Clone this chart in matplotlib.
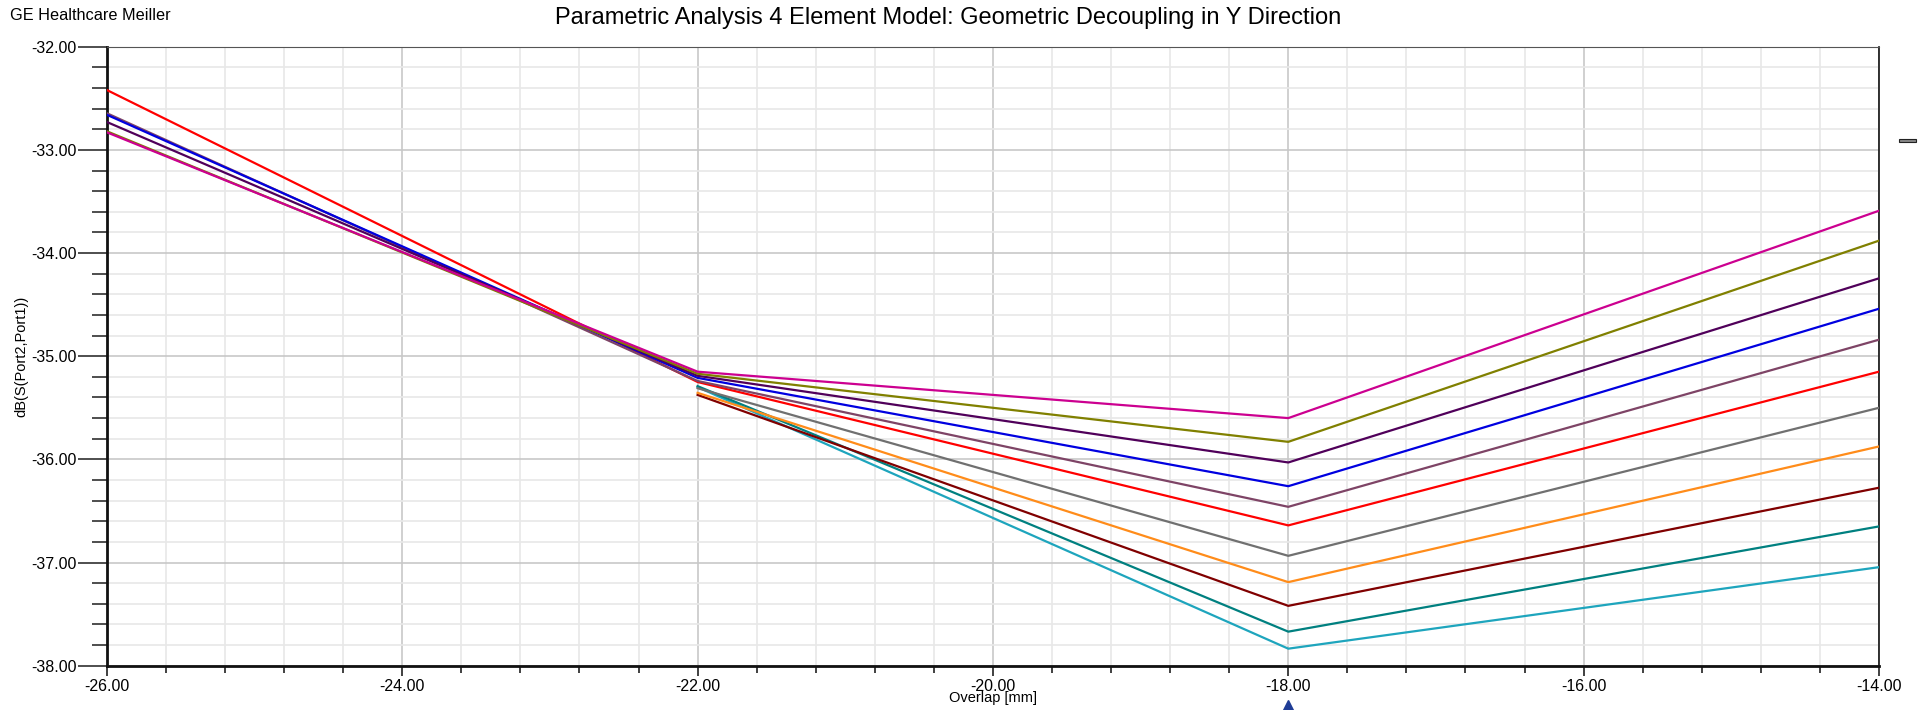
import matplotlib
matplotlib.use("Agg")
import matplotlib.pyplot as plt
import matplotlib.transforms as mtransforms
from matplotlib.patches import Rectangle
from matplotlib.ticker import MultipleLocator, FormatStrFormatter

plt.rcParams['font.family'] = ['Liberation Sans', 'DejaVu Sans']

# Overlap positions [mm]
x_long = [-26, -22, -18, -14]
x_short = [-22, -18, -14]

# dB(S(Port2,Port1)) per parametric curve
magenta = [-32.83, -35.15, -35.60, -33.59]
olive = [-32.82, -35.17, -35.83, -33.88]
dark_purple = [-32.73, -35.19, -36.03, -34.245]
blue = [-32.66, -35.21, -36.26, -34.54]
mauve = [-32.645, -35.24, -36.46, -34.84]
red = [-32.42, -35.25, -36.64, -35.15]
gray = [-35.31, -36.935, -35.50]
orange = [-35.355, -37.19, -35.875]
dark_red = [-35.375, -37.42, -36.275]
teal = [-35.29, -37.67, -36.65]
cyan = [-35.30, -37.835, -37.045]

long_series = [
    (red, "#ff0000"),
    (mauve, "#7e4466"),
    (blue, "#0000e0"),
    (dark_purple, "#50005a"),
    (olive, "#808000"),
    (magenta, "#cc0090"),
]
short_series = [
    (cyan, "#1ea5bd"),
    (teal, "#008080"),
    (dark_red, "#800000"),
    (orange, "#ff8c1a"),
    (gray, "#707070"),
]

marker_x = -18

fig = plt.figure(figsize=(19.23, 7.10), dpi=100)
ax = fig.add_axes([0.0556, 0.0624, 0.9215, 0.8718])

for vals, col in short_series:
    ax.plot(x_short, vals, color=col, lw=1.6, zorder=3)
for vals, col in long_series:
    ax.plot(x_long, vals, color=col, lw=1.6, zorder=3)

ax.set_xlim(-26, -14)
ax.set_ylim(-38, -32)
ax.xaxis.set_major_locator(MultipleLocator(2))
ax.xaxis.set_minor_locator(MultipleLocator(0.4))
ax.yaxis.set_major_locator(MultipleLocator(1))
ax.yaxis.set_minor_locator(MultipleLocator(0.2))
ax.xaxis.set_major_formatter(FormatStrFormatter('%.2f'))
ax.yaxis.set_major_formatter(FormatStrFormatter('%.2f'))

ax.grid(which='major', color='#c8c8c8', lw=1.2)
ax.grid(which='minor', color='#e8e8e8', lw=1.2)
ax.set_axisbelow(True)

ax.tick_params(axis='y', which='major', direction='out', length=21, width=1.2,
               pad=1, labelsize=11.5, color='#303030')
ax.tick_params(axis='y', which='minor', direction='out', length=11, width=1.2,
               color='#303030')
ax.tick_params(axis='x', which='major', direction='out', length=7.5, width=1.2,
               pad=2, labelsize=11.5, color='#202020')
ax.tick_params(axis='x', which='minor', direction='out', length=5, width=1.2,
               color='#202020')

for side in ['left', 'bottom']:
    ax.spines[side].set_linewidth(2)
    ax.spines[side].set_color('#111111')
ax.spines['right'].set_linewidth(1.2)
ax.spines['right'].set_color('#111111')
ax.spines['top'].set_linewidth(0.8)
ax.spines['top'].set_color('#555555')

ax.set_xlabel('Overlap [mm]', fontsize=10.5, labelpad=-2)
ax.set_ylabel('dB(S(Port2,Port1))', fontsize=10.5, labelpad=2)

fig.text(0.493, 0.975, 'Parametric Analysis 4 Element Model: Geometric Decoupling in Y Direction',
         ha='center', va='center', fontsize=17)
fig.text(0.005, 0.978, 'GE Healthcare Meiller', ha='left', va='center', fontsize=11.7)

# marker under the axis at -18
trans = mtransforms.blended_transform_factory(ax.transData, fig.transFigure)
ax.plot([marker_x], [0.006], marker='^', color='#1f3c96', markersize=8,
        transform=trans, clip_on=False)

# small collapsed legend handle on the right
fig.patches.append(Rectangle((0.9875, 0.800), 0.009, 0.004, transform=fig.transFigure,
                             facecolor='#888888', edgecolor='#222222', lw=0.8))

fig.savefig('out.png', dpi=100)
